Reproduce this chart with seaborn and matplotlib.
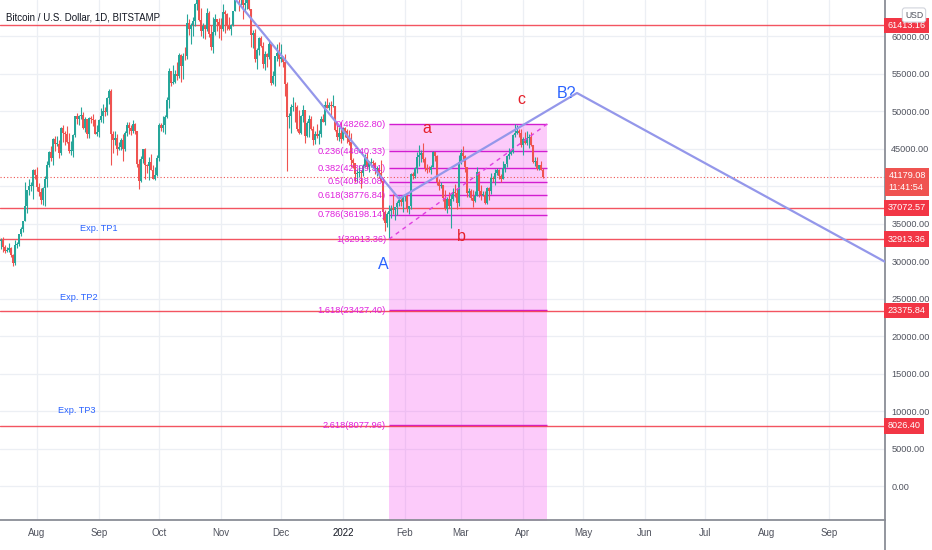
import numpy as np
import pandas as pd
import matplotlib
matplotlib.use("Agg")
import matplotlib.pyplot as plt
import matplotlib.dates as mdates
import matplotlib.transforms as mtransforms
from matplotlib.lines import Line2D
import seaborn as sns

# Daily BTC/USD candles (Bitstamp), 12 Jul 2021 .. 11 Apr 2022, in thousand USD
first_open = 34.2
closes = [
    33.1, 32.7, 32.8, 31.9, 31.4, 31.5, 31.8, 30.8, 29.8, 32.1, 32.3, 33.6, 34.3, 35.4, 37.3, 39.5, 40.0, 40.0, 42.2, 41.5,  # Jul
    39.9, 39.2, 38.2, 39.7, 40.9, 42.8, 44.6, 43.8, 46.3, 45.6, 45.6, 44.4, 47.8, 47.1, 47.0, 45.9, 44.7, 44.7, 46.8, 49.3,
    48.9, 49.3, 49.5, 47.7, 48.9, 46.9, 49.1, 48.9, 48.8, 47.0, 47.2,  # Aug
    48.8, 49.3, 50.0, 49.9, 51.8, 52.7, 46.9, 46.1, 46.4, 44.9, 45.2, 46.1, 44.9, 47.1, 48.1, 47.8, 47.3, 48.3, 47.3, 43.0,
    40.7, 43.6, 44.9, 42.8, 42.7, 43.2, 42.2, 41.0, 41.5, 43.8,  # Sep
    48.1, 47.7, 48.2, 49.2, 51.5, 55.3, 53.8, 53.9, 55.0, 54.7, 57.5, 56.0, 57.4, 57.3, 61.7, 60.9, 61.5, 62.0, 64.3, 66.0,
    62.2, 60.7, 61.3, 60.9, 63.1, 60.3, 58.5, 60.6, 62.3, 61.9, 61.3,  # Oct
    61.0, 63.2, 62.9, 61.4, 61.0, 61.5, 63.3, 67.5, 66.9, 64.9, 64.9, 64.2, 64.4, 65.5, 63.6, 60.1, 60.4, 56.9, 58.1, 59.7,
    58.7, 56.3, 57.6, 57.2, 58.9, 53.7, 54.7, 57.3, 57.8, 57.0,  # Nov
    57.2, 56.5, 53.6, 49.2, 49.4, 50.6, 50.6, 50.5, 47.6, 47.1, 49.4, 50.1, 46.7, 48.4, 48.9, 47.6, 46.2, 46.9, 46.7, 46.9,
    49.0, 48.6, 50.8, 50.4, 50.8, 50.7, 50.7, 47.5, 46.5, 47.1, 46.3,  # Dec
    47.7, 47.3, 46.4, 45.9, 43.5, 43.1, 41.6, 41.8, 41.9, 41.8, 42.7, 43.9, 42.6, 43.1, 43.2, 43.1, 42.3, 42.4, 41.7, 40.7,
    36.5, 35.1, 36.3, 36.7, 36.9, 36.8, 37.2, 37.7, 38.2, 37.9, 38.5,  # Jan
    38.7, 36.9, 37.3, 41.6, 41.4, 42.4, 43.9, 44.1, 44.4, 43.6, 42.4, 42.2, 42.1, 42.6, 44.6, 44.0, 40.5, 40.0, 40.1, 38.4,
    37.0, 38.3, 37.3, 38.3, 39.2, 39.1, 37.7, 43.2,  # Feb
    44.4, 44.0, 42.5, 39.1, 39.4, 38.4, 38.0, 38.7, 41.9, 39.4, 38.8, 38.8, 37.8, 39.7, 39.3, 41.1, 40.9, 41.8, 42.2, 41.3,
    41.0, 42.4, 42.9, 44.0, 44.3, 44.5, 46.8, 47.1, 47.4, 47.1, 45.5,  # Mar
    46.3, 45.8, 46.4, 46.6, 45.5, 43.2, 43.4, 42.3, 42.8, 42.2, 41.17908,  # Apr
]
highs = [
    34.6, 33.3, 33.1, 33.2, 32.2, 31.9, 32.4, 31.9, 31.0, 32.8, 32.6, 33.6, 34.5, 35.4, 40.5, 39.5, 40.9, 40.6, 42.3, 42.3,
    42.6, 40.4, 39.8, 39.9, 41.3, 43.3, 44.7, 45.3, 46.4, 46.7, 46.7, 46.2, 47.9, 48.1, 47.4, 48.0, 47.1, 46.0, 47.0, 49.4,
    49.8, 49.5, 50.5, 49.9, 49.2, 49.0, 49.2, 49.3, 49.6, 48.9, 48.2,
    49.0, 50.4, 51.0, 50.6, 51.9, 52.9, 52.9, 47.4, 47.3, 47.0, 45.9, 46.4, 46.9, 47.3, 48.5, 48.5, 48.2, 48.8, 48.4, 47.3,
    43.6, 44.0, 44.9, 45.1, 42.9, 43.9, 44.3, 42.8, 42.6, 44.1,
    48.4, 48.4, 49.3, 49.5, 51.9, 55.8, 55.3, 56.1, 55.5, 56.5, 57.8, 57.6, 57.7, 58.5, 62.9, 62.3, 61.7, 62.6, 64.4, 67.0,
    66.6, 63.7, 61.7, 61.5, 63.7, 63.3, 61.5, 62.5, 62.9, 62.3, 62.4,
    62.4, 64.3, 63.5, 63.1, 62.6, 61.6, 63.3, 67.8, 68.5, 69.0, 65.6, 65.4, 65.0, 65.5, 66.3, 63.6, 60.8, 60.9, 58.4, 59.9,
    60.0, 59.2, 58.0, 57.8, 59.4, 59.2, 55.3, 57.4, 58.9, 59.2,
    59.0, 57.4, 57.6, 53.9, 49.7, 50.9, 51.9, 51.2, 50.8, 50.1, 49.5, 50.8, 50.2, 48.7, 49.5, 49.4, 48.0, 47.3, 48.3, 47.5,
    49.3, 49.6, 51.4, 51.8, 51.2, 51.3, 52.1, 50.7, 48.1, 47.9, 48.5,
    47.9, 47.9, 47.6, 47.5, 47.1, 43.7, 43.1, 42.3, 42.8, 42.2, 43.0, 44.3, 44.5, 43.4, 43.8, 43.5, 43.2, 42.7, 42.6, 43.5,
    41.1, 36.8, 36.5, 37.5, 37.5, 38.9, 37.2, 38.0, 38.7, 38.4, 38.7,
    39.0, 38.9, 37.4, 41.7, 41.9, 42.6, 44.5, 45.5, 44.8, 45.8, 43.9, 43.0, 42.7, 42.8, 44.7, 44.6, 44.2, 40.9, 40.5, 40.1,
    39.5, 38.5, 39.2, 38.9, 39.7, 40.3, 39.8, 44.2,
    44.9, 45.4, 44.1, 42.5, 39.7, 39.6, 39.5, 39.4, 42.6, 42.0, 40.2, 39.4, 39.3, 39.9, 39.9, 41.7, 41.4, 42.3, 42.4, 42.3,
    41.6, 43.3, 43.0, 44.2, 45.1, 44.8, 46.9, 48.26, 48.1, 47.6, 47.6,
    46.6, 47.2, 47.4, 46.9, 47.2, 45.5, 43.9, 43.9, 42.8, 43.4, 42.4,
]
lows = [
    32.7, 32.2, 31.6, 31.2, 31.1, 31.2, 31.2, 30.5, 29.3, 29.5, 31.7, 32.0, 33.4, 33.9, 35.3, 36.4, 38.8, 39.3, 38.3, 41.0,
    39.4, 38.7, 37.6, 37.5, 37.3, 39.9, 42.5, 43.4, 42.8, 44.7, 45.3, 43.8, 44.2, 45.9, 45.5, 45.7, 44.4, 44.2, 43.9, 46.6,
    48.3, 48.1, 49.0, 47.6, 47.2, 46.4, 46.4, 48.4, 48.0, 46.9, 46.7,
    46.5, 48.6, 48.4, 49.4, 49.5, 50.9, 42.8, 44.4, 45.5, 44.2, 44.8, 44.8, 43.4, 44.7, 46.7, 47.0, 46.8, 47.1, 46.9, 42.6,
    39.6, 40.6, 43.1, 40.9, 41.7, 40.8, 42.1, 40.9, 40.8, 41.4,
    43.3, 47.4, 47.2, 46.9, 49.1, 50.4, 53.4, 53.6, 53.7, 54.1, 54.4, 53.9, 54.3, 56.8, 56.9, 60.2, 58.9, 60.0, 61.4, 63.5,
    62.0, 60.0, 59.7, 59.6, 60.7, 59.9, 58.1, 57.8, 60.2, 60.7, 59.8,
    59.5, 60.7, 60.4, 60.8, 60.8, 60.2, 61.4, 63.3, 66.4, 63.3, 64.1, 62.3, 63.4, 63.6, 63.5, 58.6, 58.4, 56.5, 55.6, 57.5,
    58.6, 55.7, 55.5, 55.9, 57.0, 53.5, 53.6, 53.3, 56.7, 56.0,
    56.5, 55.9, 52.0, 42.0, 47.7, 47.1, 50.0, 48.6, 47.3, 47.0, 46.9, 48.6, 45.7, 46.5, 46.6, 47.5, 45.5, 45.6, 46.4, 45.6,
    46.6, 48.5, 48.1, 50.4, 50.2, 49.5, 50.5, 47.3, 46.1, 46.0, 45.7,
    46.2, 46.6, 45.7, 45.5, 42.6, 42.4, 40.6, 40.5, 41.2, 39.7, 41.3, 42.5, 42.3, 41.9, 42.6, 42.6, 41.6, 41.3, 41.1, 40.6,
    35.5, 34.0, 34.6, 32.91, 35.8, 36.3, 35.5, 36.2, 37.4, 37.4, 36.6,
    38.0, 36.6, 36.3, 37.0, 40.9, 41.1, 41.7, 42.7, 43.2, 43.2, 42.0, 41.8, 41.9, 41.6, 42.5, 43.3, 40.1, 39.5, 39.7, 38.0,
    36.8, 36.4, 37.1, 34.4, 38.0, 38.6, 37.0, 37.4,
    42.9, 43.3, 41.9, 38.6, 38.6, 38.1, 37.2, 37.9, 38.7, 38.6, 38.2, 38.7, 37.6, 37.6, 38.1, 38.9, 40.5, 40.2, 41.5, 41.0,
    40.5, 40.9, 41.9, 42.6, 43.6, 44.1, 44.4, 46.6, 46.9, 46.6, 45.2,
    44.2, 45.6, 45.5, 45.1, 45.4, 43.1, 42.7, 42.1, 42.1, 42.1, 41.1,
]
first_day = "2021-07-12"

# horizontal rays (red) and their axis labels
ray_prices = [61413.16, 37072.57, 32913.36, 23375.84, 8026.40]
last_price = 41179.08
countdown = "11:41:54"

# fib retracement
fib_labels = ["0(48262.80)", "0.236(44640.33)", "0.382(42399.31)", "0.5(40588.08)", "0.618(38776.84)",
              "0.786(36198.14)", "1(32913.36)", "1.618(23427.40)", "2.618(8077.96)"]
fib_prices = [48262.80, 44640.33, 42399.31, 40588.08, 38776.84, 36198.14, 32913.36, 23427.40, 8077.96]
fib_from, fib_to = "2022-01-24", "2022-04-13"

# drawn trend lines
blue_dates = ["2021-11-06", "2022-01-29", "2022-04-28", "2022-09-29"]
blue_prices = [65600, 38300, 52400, 29900]
dash_dates = ["2022-01-24", "2022-04-13"]
dash_prices = [32913.36, 48262.80]

# wave labels
wave_text = ["A", "a", "b", "c", "B?"]
wave_dates = ["2022-01-21", "2022-02-12", "2022-03-01", "2022-03-31", "2022-04-23"]
wave_prices = [29500, 47700, 33300, 51500, 52400]
wave_colors = ["#2962ff", "#e5202a", "#e5202a", "#e5202a", "#2962ff"]

tp_text = ["Exp. TP1", "Exp. TP2", "Exp. TP3"]
tp_dates = ["2021-09-01", "2021-08-22", "2021-08-21"]
tp_prices = [34400, 25100, 10100]

month_starts = pd.date_range("2021-08-01", "2022-09-01", freq="MS")
month_labels = ["Aug", "Sep", "Oct", "Nov", "Dec", "2022", "Feb", "Mar", "Apr", "May", "Jun", "Jul", "Aug", "Sep"]
y_ticks = list(range(0, 60001, 5000))

sns.set_style("white")
plt.rcParams["font.family"] = ["Liberation Sans", "DejaVu Sans"]

df = pd.DataFrame({
    "date": pd.date_range(first_day, periods=len(closes), freq="D"),
    "close": np.array(closes) * 1000,
    "high": np.array(highs) * 1000,
    "low": np.array(lows) * 1000,
})
df["open"] = df["close"].shift(1).fillna(first_open * 1000)
df["high"] = df[["high", "open", "close"]].max(axis=1)
df["low"] = df[["low", "open", "close"]].min(axis=1)
df["x"] = mdates.date2num(df["date"])

fig = plt.figure(figsize=(9.32, 5.5), dpi=100)
ax = fig.add_axes([0, 30 / 550, 885 / 932, 520 / 550])

d = lambda s: mdates.date2num(pd.Timestamp(s))
aug1 = d("2021-08-01")
ax.set_xlim(aug1 - 18.5, aug1 + 424)
ax.set_ylim(-4530, 64800)

# grid
ax.set_yticks(y_ticks)
ax.set_xticks(mdates.date2num(month_starts))
ax.grid(True, color="#eceff4", lw=0.9)
ax.set_axisbelow(True)

# fib box
x0, x1 = d(fib_from), d(fib_to)
ax.fill_between([x0, x1], -20000, fib_prices[0], color=(0.96, 0.25, 0.94), alpha=0.27, lw=0, zorder=1)
ax.hlines(fib_prices, x0, x1, color="#d21dd0", lw=1, zorder=2)
for lab, p in zip(fib_labels, fib_prices):
    ax.text(x0 - 1.5, p, lab, ha="right", va="center", color="#e020dd", fontsize=6.7, zorder=6)

# red rays
for p in ray_prices:
    ax.axhline(p, color="#f23645", lw=1, alpha=0.85, zorder=2)
ax.axhline(last_price, color="#ef5350", lw=0.8, ls=(0, (1, 2)), zorder=2)

# candles
up = df["close"] >= df["open"]
cols = np.where(up, "#26a69a", "#ef5350")
ax.vlines(df["x"], df["low"], df["high"], colors=cols, lw=0.8, zorder=3)
body_lo = df[["open", "close"]].min(axis=1)
body_h = (df["close"] - df["open"]).abs().clip(lower=80)
ax.bar(df["x"], body_h, bottom=body_lo, width=0.85, color=cols, lw=0, zorder=4)

# trend lines
sns.lineplot(x=[d(s) for s in blue_dates], y=blue_prices, ax=ax, sort=False, color="#9497ea",
             lw=1.6, legend=False, zorder=5)
sns.lineplot(x=[d(s) for s in dash_dates], y=dash_prices, ax=ax, sort=False, color="#e040e0",
             lw=1, dashes=False, legend=False, zorder=5)
ax.lines[-1].set_linestyle((0, (3, 3)))

for t, s, p, c in zip(wave_text, wave_dates, wave_prices, wave_colors):
    ax.text(d(s), p, t, ha="center", va="center", color=c, fontsize=11.5, zorder=7)
for t, s, p in zip(tp_text, tp_dates, tp_prices):
    ax.text(d(s), p, t, ha="center", va="center", color="#2962ff", fontsize=6.6, zorder=7)

# axes styling
ax.yaxis.tick_right()
ax.tick_params(axis="both", length=0, labelsize=6.6, labelcolor="#50535e")
ax.tick_params(axis="y", pad=4.5)
ax.tick_params(axis="x", pad=6, labelsize=7)
# 40000 is fully hidden behind the live price label
ax.set_yticklabels(["" if v == 40000 else f"{v:.2f}" for v in y_ticks])
ax.set_xticklabels(month_labels)
ax.get_xticklabels()[5].set_color("#131722")
for side in ["top", "left"]:
    ax.spines[side].set_visible(False)
for side in ["right", "bottom"]:
    ax.spines[side].set_color("#8a8d96")
    ax.spines[side].set_linewidth(1.3)
fig.add_artist(Line2D([885 / 932, 885 / 932], [0, 30 / 550], transform=fig.transFigure,
                      color="#8a8d96", lw=1.3))

# price boxes on the right axis
trans = mtransforms.blended_transform_factory(ax.transAxes, ax.transData)
for p in ray_prices:
    ax.text(1.003, p, f"{p:.2f}", transform=trans, ha="left", va="center", color="white",
            fontsize=6.6, clip_on=False, zorder=10,
            bbox=dict(boxstyle="square,pad=0.35", fc="#f23645", ec="none"))
ax.annotate(f"{last_price:.2f}\n{countdown}", xy=(1.0, last_price), xycoords=trans,
            xytext=(2.5, 4.5), textcoords="offset points", ha="left", va="top", color="white",
            fontsize=6.6, linespacing=1.5, annotation_clip=False, zorder=11,
            bbox=dict(boxstyle="square,pad=0.35", fc="#ef5350", ec="none"))

fig.text(914 / 932, 1 - 15 / 550, "USD", ha="center", va="center", fontsize=6.2, color="#50535e",
         bbox=dict(boxstyle="round,pad=0.3", fc="white", ec="#d1d4dc", lw=0.8))
fig.text(6 / 932, 1 - 18 / 550, "Bitcoin / U.S. Dollar, 1D, BITSTAMP", ha="left", va="center",
         fontsize=7, color="#131722")

fig.savefig("out.png", dpi=100)
